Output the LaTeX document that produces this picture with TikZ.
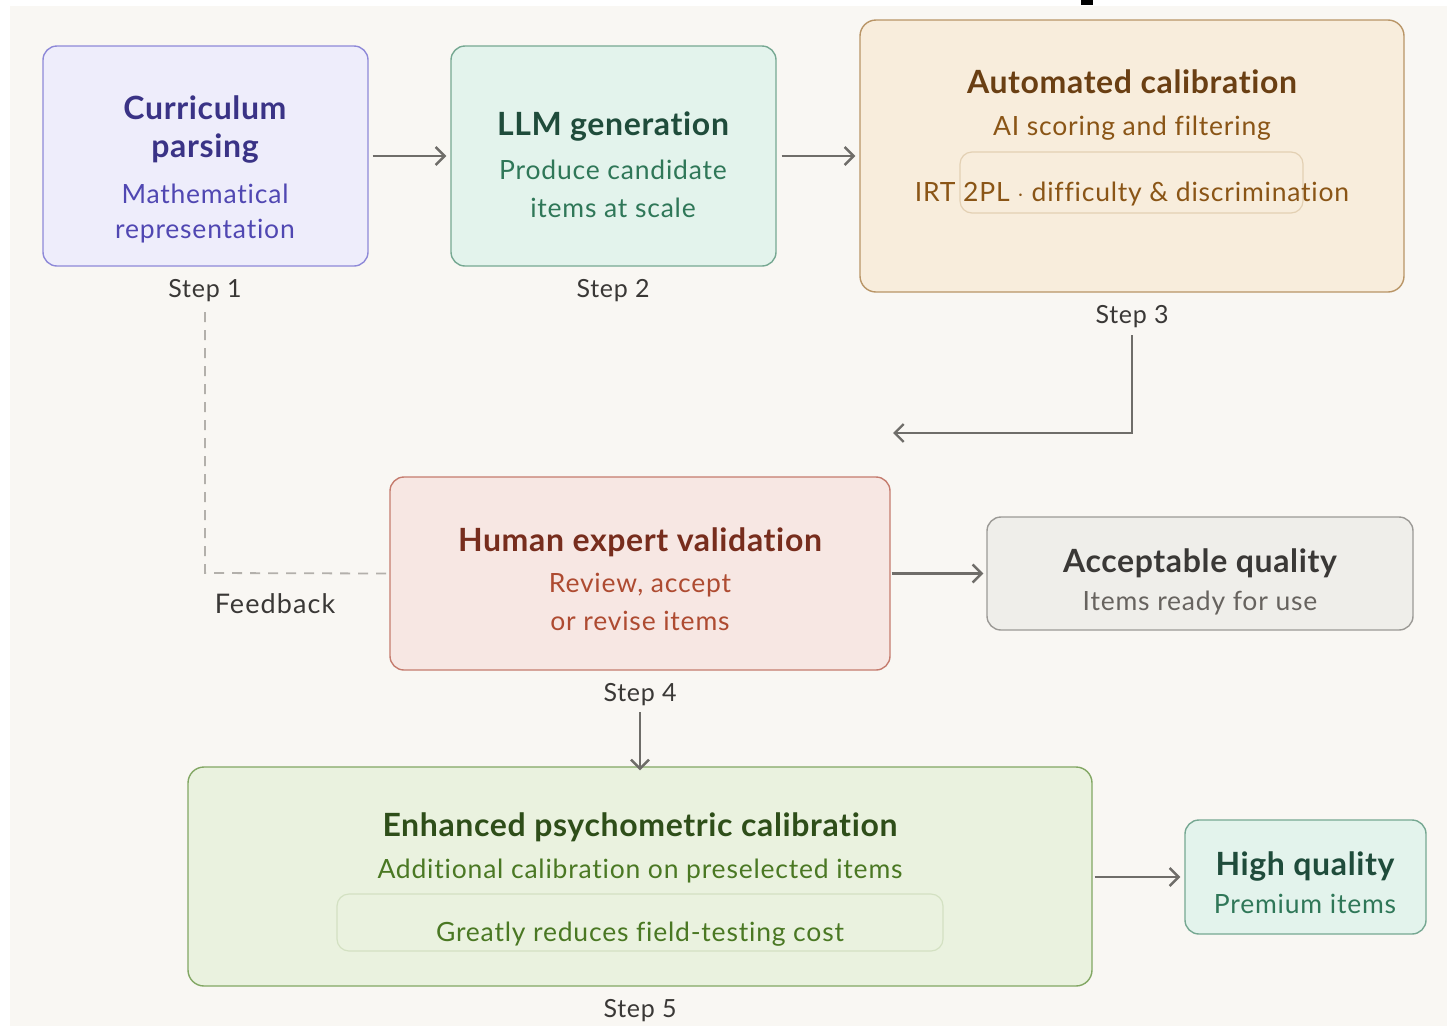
\documentclass[tikz,border=0pt]{standalone}
\usepackage{fontspec}
\setmainfont{Lato}[Ligatures=NoCommon]
\usetikzlibrary{arrows.meta}

% palette
\definecolor{bgcol}{HTML}{F9F7F3}
\definecolor{arrowcol}{HTML}{6F6D69}
\definecolor{dashcol}{HTML}{B3B0AB}
\definecolor{labelcol}{HTML}{3A3836}
\definecolor{purfill}{HTML}{EEEDFB}
\definecolor{purline}{HTML}{8E89D8}
\definecolor{purhead}{HTML}{3A3386}
\definecolor{purtext}{HTML}{5047B2}
\definecolor{tealfill}{HTML}{E3F3EC}
\definecolor{tealline}{HTML}{76A892}
\definecolor{tealhead}{HTML}{1F4C3B}
\definecolor{tealtext}{HTML}{2F7758}
\definecolor{sandfill}{HTML}{F8EDDC}
\definecolor{sandline}{HTML}{B99566}
\definecolor{sandinner}{HTML}{E3D0B3}
\definecolor{sandhead}{HTML}{6A3F13}
\definecolor{sandtext}{HTML}{8A5516}
\definecolor{rosefill}{HTML}{F7E7E3}
\definecolor{roseline}{HTML}{C57C6E}
\definecolor{rosehead}{HTML}{772D1D}
\definecolor{rosetext}{HTML}{AE4B31}
\definecolor{greyfill}{HTML}{EFEEEA}
\definecolor{greyline}{HTML}{9C9A96}
\definecolor{greyhead}{HTML}{3A3836}
\definecolor{greytext}{HTML}{67635F}
\definecolor{leaffill}{HTML}{EAF2DF}
\definecolor{leafline}{HTML}{82A763}
\definecolor{leafinner}{HTML}{D3E1C2}
\definecolor{leafhead}{HTML}{2E4E19}
\definecolor{leaftext}{HTML}{4A7823}

\tikzset{
  card/.style={draw, rounded corners=14pt, line width=1.4pt, inner sep=0pt},
  inset/.style={draw, rounded corners=12pt, line width=1.2pt, inner sep=0pt},
  headtxt/.style={anchor=base, inner sep=0pt, font=\fontsize{32}{38}\selectfont\bfseries\addfontfeature{LetterSpace=2}},
  subtxt/.style={anchor=base, inner sep=0pt, font=\fontsize{26.5}{31}\selectfont\addfontfeature{LetterSpace=3}},
  steptxt/.style={anchor=base, inner sep=0pt, text=labelcol, font=\fontsize{25}{30}\selectfont\addfontfeature{LetterSpace=3}},
  fbtxt/.style={anchor=base, inner sep=0pt, text=labelcol, font=\fontsize{27}{32}\selectfont\addfontfeature{LetterSpace=4}},
  flow/.style={draw=arrowcol, line width=2.4pt, -{Straight Barb[length=9pt,width=18pt,line width=2.4pt]}},
  loopback/.style={draw=dashcol, line width=1.8pt, dash pattern=on 10pt off 8pt},
}

\begin{document}
\begin{tikzpicture}[x=1pt,y=-1pt]
\useasboundingbox (0,0) rectangle (1447,1026);
\fill[white] (0,0) rectangle (1447,1026);
\fill[bgcol] (10,6) rectangle (1447,1026);
\fill[black] (1081,0) rectangle (1093,5);

% ---------- Step 1 ----------
\node[card, fill=purfill, draw=purline, minimum width=325pt, minimum height=220pt] (cur) at (205.5,156) {};
\node[headtxt, text=purhead] (curA) at (205,119) {Curriculum};
\node[headtxt, text=purhead] (curB) at (205,157) {parsing};
\node[subtxt, text=purtext] (curC) at (205,203) {Mathematical};
\node[subtxt, text=purtext] (curD) at (205,238) {representation};
\node[steptxt] (s1) at (205,297) {Step 1};

% ---------- Step 2 ----------
\node[card, fill=tealfill, draw=tealline, minimum width=325pt, minimum height=220pt] (llm) at (613.5,156) {};
\node[headtxt, text=tealhead] (llmA) at (613,135) {LLM generation};
\node[subtxt, text=tealtext] (llmB) at (613,179) {Produce candidate};
\node[subtxt, text=tealtext] (llmC) at (613,217) {items at scale};
\node[steptxt] (s2) at (613,297) {Step 2};

% ---------- Step 3 ----------
\node[card, fill=sandfill, draw=sandline, minimum width=544pt, minimum height=272pt, rounded corners=16pt] (auto) at (1132,156) {};
\node[headtxt, text=sandhead] (autoA) at (1132,93) {Automated calibration};
\node[subtxt, text=sandtext] (autoB) at (1132,135) {AI scoring and filtering};
\node[inset, draw=sandinner, minimum width=343pt, minimum height=61pt] (irtbox) at (1131.5,182.5) {};
\node[subtxt, text=sandtext] (autoC) at (1132,201) {IRT 2PL $\cdot$ difficulty \& discrimination};
\node[steptxt] (s3) at (1132,323) {Step 3};

% ---------- Step 4 ----------
\node[card, fill=rosefill, draw=roseline, minimum width=500pt, minimum height=193pt] (hum) at (640,573.5) {};
\node[headtxt, text=rosehead] (humA) at (640,551) {Human expert validation};
\node[subtxt, text=rosetext] (humB) at (640,592) {Review, accept};
\node[subtxt, text=rosetext] (humC) at (640,630) {or revise items};
\node[steptxt] (s4) at (640,701) {Step 4};

% ---------- Acceptable outcome ----------
\node[card, fill=greyfill, draw=greyline, minimum width=426pt, minimum height=113pt] (ok) at (1200,573.5) {};
\node[headtxt, text=greyhead] (okA) at (1200,572) {Acceptable quality};
\node[subtxt, text=greytext] (okB) at (1200,610) {Items ready for use};

% ---------- Step 5 ----------
\node[card, fill=leaffill, draw=leafline, minimum width=904pt, minimum height=219pt, rounded corners=16pt] (enh) at (640,876.5) {};
\node[headtxt, text=leafhead] (enhA) at (640,836) {Enhanced psychometric calibration};
\node[subtxt, text=leaftext] (enhB) at (640,878) {Additional calibration on preselected items};
\node[inset, draw=leafinner, minimum width=606pt, minimum height=57pt] (costbox) at (640,922.5) {};
\node[subtxt, text=leaftext] (enhC) at (640,941) {Greatly reduces field-testing cost};
\node[steptxt] (s5) at (640,1017) {Step 5};

% ---------- High-quality outcome ----------
\node[card, fill=tealfill, draw=tealline, minimum width=241pt, minimum height=114pt] (hq) at (1305.5,877) {};
\node[headtxt, text=tealhead] (hqA) at (1305,875) {High quality};
\node[subtxt, text=tealtext] (hqB) at (1305,913) {Premium items};

% ---------- connectors ----------
\draw[flow] ([xshift=4pt]cur.east) -- ([xshift=-4pt]llm.east -| llm.west);
\draw[flow] ([xshift=5pt]llm.east) -- ([xshift=-4pt]llm.east -| auto.west);
\coordinate (bend) at (1132,433);
\coordinate (drop) at (893,433);
\coordinate (s3foot) at (1132,335);
\draw[flow] (s3foot) -- (bend) -- (drop);
\draw[flow] ([xshift=1pt]hum.east) -- ([xshift=-3pt]hum.east -| ok.west);
\coordinate (s4foot) at (640,712);
\draw[flow] (s4foot) -- ([yshift=-4pt]enh.north);
\draw[flow] ([xshift=2pt]enh.east |- hq.west) -- ([xshift=-4pt]hq.west);

% feedback loop back to step 1
\coordinate (fbtop) at (205,312);
\coordinate (fbcorner) at (205,573);
\draw[loopback] (fbtop) -- (fbcorner) -- (hum.west);
\node[fbtxt] (fb) at (275,613) {Feedback};
\end{tikzpicture}
\end{document}
